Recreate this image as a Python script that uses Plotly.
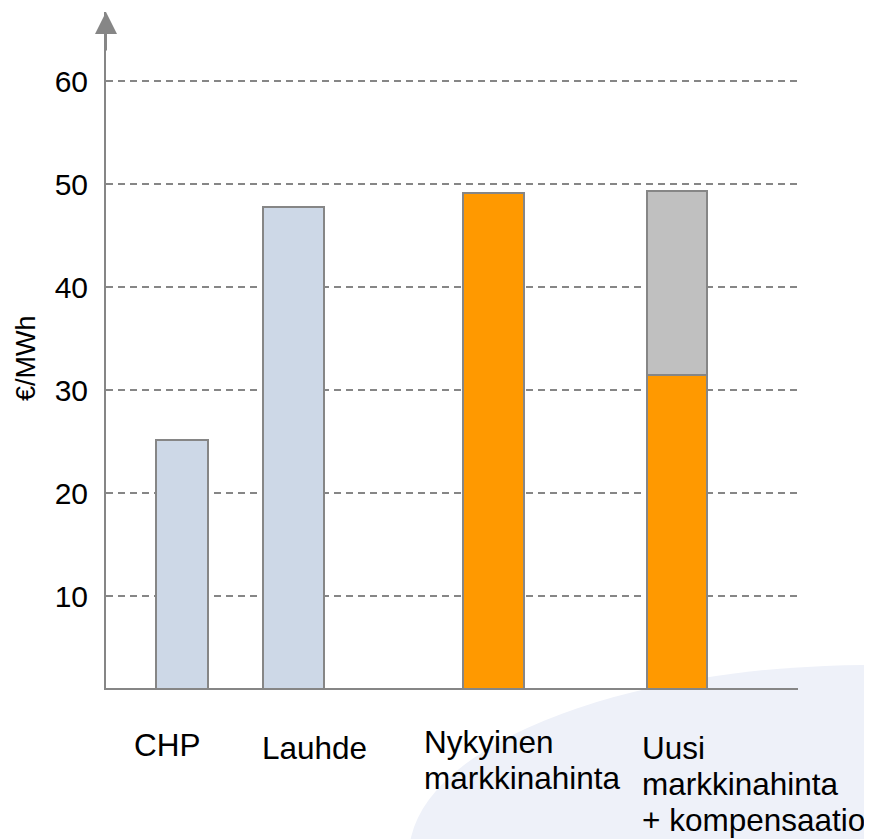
import plotly.graph_objects as go

# ---------------- data ----------------
categories = ["CHP", "Lauhde", "Nykyinen markkinahinta", "Uusi markkinahinta + kompensaatio"]
label_lines = [["CHP"], ["Lauhde"], ["Nykyinen", "markkinahinta"],
               ["Uusi", "markkinahinta", "+ kompensaatio"]]
cost_values = [25.1, 47.8, None, None]            # production cost (light blue)
market_values = [None, None, 49.1, 31.45]         # market price (orange)
compensation_values = [None, None, None, 17.85]   # compensation (grey)
y_ticks = [10, 20, 30, 40, 50, 60]
y_title = "€/MWh"

# ---------------- layout constants (window pixels) ----------------
OFF = 8                      # default page body margin
WIN_W, WIN_H = 872, 839
W, H = WIN_W - OFF, WIN_H - OFF
PLOT_L, PLOT_R, PLOT_T, PLOT_B = 106, 798, 12, 688
X_RANGE = [0, PLOT_R - PLOT_L]
Y_RANGE = [1.07, 66.7]
bar_centers = [76.2, 187.2, 387.5, 571.2]
bar_widths = [52, 61, 61, 60]
label_left_px = [135, 263, 425, 643]
label_baseline_px = [756, 759, 753, 759]
LINE_STEP = 36
FONT = "Liberation Sans, Arial, sans-serif"
FS = 30
FS_LABEL = 31.5
GRAY = "#868686"


def px_x(px):
    return (px - PLOT_L) / (PLOT_R - PLOT_L)


def px_y(py):
    return (PLOT_B - py) / (PLOT_B - PLOT_T)


fig = go.Figure()
outline = dict(color=GRAY, width=2)
fig.add_trace(go.Bar(x=bar_centers, y=cost_values, width=bar_widths,
                     marker=dict(color="#cdd8e7", line=outline), name="Kustannus"))
fig.add_trace(go.Bar(x=bar_centers, y=market_values, width=bar_widths,
                     marker=dict(color="#ff9900", line=outline), name="Markkinahinta"))
fig.add_trace(go.Bar(x=bar_centers, y=compensation_values, width=bar_widths,
                     marker=dict(color="#c0c0c0", line=outline), name="Kompensaatio"))

annotations = []
for lines, lx, bl in zip(label_lines, label_left_px, label_baseline_px):
    for i, t in enumerate(lines):
        yc = bl + i * LINE_STEP - 0.35 * FS_LABEL
        annotations.append(dict(text=t, xref="paper", yref="paper",
                                x=px_x(lx - 3), y=px_y(yc), xanchor="left", yanchor="middle",
                                showarrow=False, align="left",
                                font=dict(family=FONT, size=FS_LABEL, color="black")))

# y axis title
annotations.append(dict(text=y_title, xref="paper", yref="paper",
                        x=px_x(26), y=px_y(358), xanchor="center", yanchor="middle",
                        textangle=-90, showarrow=False,
                        font=dict(family=FONT, size=27, color="black")))

# arrow head on top of the y axis
annotations.append(dict(text="", xref="paper", yref="paper", x=0, y=1,
                        ax=0, ay=40, axref="pixel", ayref="pixel",
                        showarrow=True, arrowhead=2, arrowsize=2.2, arrowwidth=2,
                        arrowcolor=GRAY, standoff=0))

# decorative light swoosh in the lower right
shapes = [dict(type="circle", xref="paper", yref="paper", layer="below",
               x0=px_x(870 - 461), x1=px_x(870 + 461),
               y0=px_y(855 + 190), y1=px_y(855 - 190),
               fillcolor="#eef1f9", line=dict(width=0))]

fig.update_layout(
    width=W, height=H,
    margin=dict(l=PLOT_L - OFF, r=WIN_W - PLOT_R, t=PLOT_T - OFF, b=WIN_H - PLOT_B),
    paper_bgcolor="white", plot_bgcolor="rgba(0,0,0,0)",
    barmode="stack", showlegend=False,
    font=dict(family=FONT, size=FS, color="black"),
    annotations=annotations, shapes=shapes,
    xaxis=dict(range=X_RANGE, showgrid=False, zeroline=False, showticklabels=False,
               showline=True, linecolor=GRAY, linewidth=2, ticks=""),
    yaxis=dict(range=Y_RANGE, tickvals=y_ticks, ticktext=[str(v) for v in y_ticks],
               showgrid=True, gridcolor=GRAY, gridwidth=1.5, griddash="7px,5px",
               zeroline=False, showline=True, linecolor=GRAY, linewidth=2,
               ticks="", ticklabelstandoff=10,
               tickfont=dict(family=FONT, size=FS, color="black")),
)

fig.write_html("out.html")
